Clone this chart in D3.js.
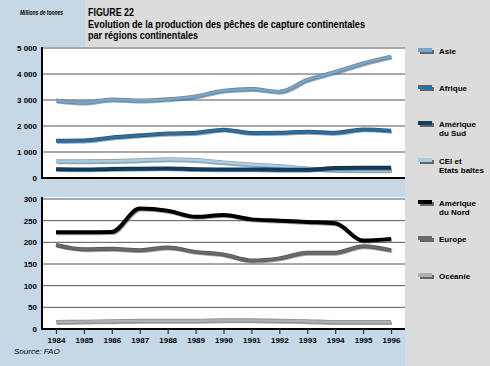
<!DOCTYPE html>
<html><head><meta charset="utf-8">
<script src="https://cdn.jsdelivr.net/npm/d3@7"></script>
<style>body{margin:0;background:#c6d8e5;}svg{display:block;}text{font-family:"Liberation Sans Narrow","Liberation Sans",Arial,sans-serif;}</style>
</head><body><svg id="c" width="490" height="366"></svg>
<script>
const years = [1984,1985,1986,1987,1988,1989,1990,1991,1992,1993,1994,1995,1996];
const asie     = [2980,2900,3020,2980,3030,3140,3360,3420,3320,3770,4080,4410,4670];
const afrique  = [1430,1440,1560,1640,1710,1740,1860,1730,1740,1780,1740,1870,1820];
const amSud    = [340,330,350,360,370,340,330,330,320,320,380,390,390];
const cei      = [640,640,650,680,720,690,600,520,460,370,310,300,300];
const amNord   = [223,223,224,278,273,259,263,253,250,247,244,204,208];
const europe   = [194,184,185,182,188,178,172,158,163,176,176,191,182];
const oceanie  = [16,17,18,19,19,19,20,20,19,18,16,16,16];
const topTicks = [0,1000,2000,3000,4000,5000];
const botTicks = [0,50,100,150,200,250,300];
const topSeries = [
  {name:["Asie"], values:asie, color:"#79a7c9"},
  {name:["Afrique"], values:afrique, color:"#2e6e9e"},
  {name:["Amérique","du Sud"], values:amSud, color:"#0e3f63"},
  {name:["CEI et","Etats baltes"], values:cei, color:"#a9cde4"}
];
const botSeries = [
  {name:["Amérique","du Nord"], values:amNord, color:"#000000"},
  {name:["Europe"], values:europe, color:"#6a6a6a"},
  {name:["Océanie"], values:oceanie, color:"#b0b0b0"}
];

const svg = d3.select("#c");
// backgrounds
svg.append("rect").attr("x",0).attr("y",0).attr("width",490).attr("height",366).attr("fill","#c6d8e5");
svg.append("rect").attr("x",85).attr("y",0).attr("width",405).attr("height",47).attr("fill","#dcdcdc");
svg.append("rect").attr("x",405).attr("y",0).attr("width",85).attr("height",366).attr("fill","#dcdcdc");

const x = d3.scaleLinear().domain([1984,1996]).range([56,391]);
const yTop = d3.scaleLinear().domain([0,5000]).range([178,48]);
const yBot = d3.scaleLinear().domain([0,300]).range([329,199]);

function panel(y, ticks, series, top, bottom, fmt, showX){
  svg.append("rect").attr("x",42).attr("y",top).attr("width",363).attr("height",bottom-top).attr("fill","#ffffff");
  // gridlines
  svg.append("g").selectAll("line").data(ticks.filter(t=>t>0)).join("line")
    .attr("x1",42).attr("x2",405).attr("y1",d=>y(d)).attr("y2",d=>y(d))
    .attr("stroke","#555").attr("stroke-width",1);
  // y labels
  svg.append("g").selectAll("text").data(ticks).join("text")
    .attr("x",37).attr("y",d=>y(d)+3).attr("text-anchor","end")
    .attr("font-size",8).attr("font-weight","bold").attr("fill","#000")
    .text(d=>fmt(d));
  const line = d3.line().x((d,i)=>x(years[i])).y(d=>y(d)).curve(d3.curveMonotoneX);
  series.slice().reverse().forEach(s=>{
    svg.append("path").attr("d",line(s.values)).attr("fill","none")
      .attr("stroke","#5a5a5a").attr("stroke-opacity",0.55).attr("stroke-width",3.5)
      .attr("transform","translate(1,1.2)");
    svg.append("path").attr("d",line(s.values)).attr("fill","none")
      .attr("stroke",d3.color(s.color).darker(0.6)).attr("stroke-width",4);
    svg.append("path").attr("d",line(s.values)).attr("fill","none")
      .attr("stroke",s.color).attr("stroke-width",2.4);
  });
  // axes
  svg.append("line").attr("x1",42).attr("x2",42).attr("y1",top).attr("y2",bottom+1).attr("stroke","#000").attr("stroke-width",2);
  svg.append("line").attr("x1",41).attr("x2",405).attr("y1",bottom).attr("y2",bottom).attr("stroke","#000").attr("stroke-width",2);
  if(showX){
    const ax = d3.axisBottom(x).tickValues(years).tickFormat(d3.format("d")).tickSize(5).tickPadding(3);
    const g = svg.append("g").attr("transform",`translate(0,${bottom})`).call(ax);
    g.select(".domain").remove();
    g.selectAll(".tick line").attr("stroke","#333").attr("stroke-width",1.2);
    g.selectAll("text").attr("font-size",8).attr("font-weight","bold").attr("fill","#000")
      .attr("font-family","'Liberation Sans Narrow','Liberation Sans',Arial,sans-serif");
  }
}
const fmtK = d => d===0 ? "0" : d3.format(",")(d).replace(",", " ");
panel(yTop, topTicks, topSeries, 47, 178, fmtK, false);
panel(yBot, botTicks, botSeries, 197, 329, d=>String(d), true);

// legend
function legend(series, ys){
  series.forEach((s,i)=>{
    const yy = ys[i];
    svg.append("rect").attr("x",420).attr("y",yy-1).attr("width",14).attr("height",4).attr("fill","#666");
    svg.append("rect").attr("x",418).attr("y",yy-3).attr("width",14).attr("height",4).attr("fill",s.color);
    s.name.forEach((n,j)=>{
      svg.append("text").attr("x",439).attr("y",yy+3+j*9).attr("font-size",8).attr("font-weight","bold").attr("fill","#000").text(n);
    });
  });
}
legend(topSeries,[51,88,124,161]);
legend(botSeries,[203,239,276]);

// titles
svg.append("text").attr("x",88).attr("y",16).attr("font-size",11.5).attr("font-weight","bold").text("FIGURE 22")
  .attr("textLength",46).attr("lengthAdjust","spacingAndGlyphs");
svg.append("text").attr("x",88).attr("y",28).attr("font-size",11.5).attr("font-weight","bold")
  .text("Evolution de la production des pêches de capture continentales")
  .attr("textLength",277).attr("lengthAdjust","spacingAndGlyphs");
svg.append("text").attr("x",88).attr("y",39).attr("font-size",11.5).attr("font-weight","bold")
  .text("par régions continentales").attr("textLength",110).attr("lengthAdjust","spacingAndGlyphs");
svg.append("text").attr("x",20).attr("y",15).attr("font-size",6.5).attr("font-weight","bold").attr("font-style","italic")
  .text("Millions de tonnes").attr("textLength",43).attr("lengthAdjust","spacingAndGlyphs");
svg.append("text").attr("x",14).attr("y",354).attr("font-size",8).attr("font-style","italic")
  .text("Source: FAO");
</script></body></html>
